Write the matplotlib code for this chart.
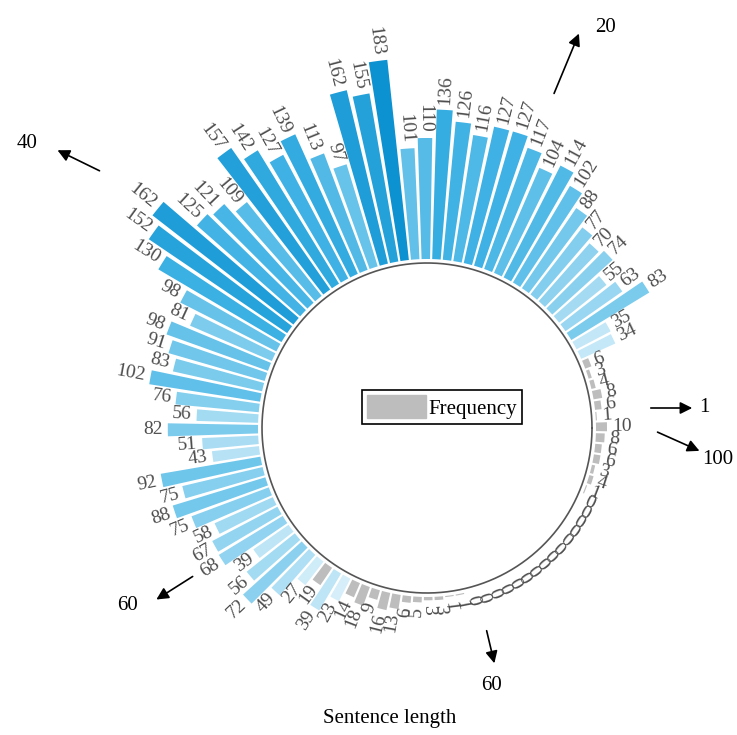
import matplotlib.pyplot as plt
import numpy as np
from matplotlib.colors import LinearSegmentedColormap

# frequency for sentence length 1..100 (counter-clockwise from the east)
lengths = np.arange(1, 101)
freq = [
    1, 6, 8, 4, 3, 6, 34, 35, 83, 63,
    55, 74, 70, 77, 88, 102, 114, 104, 117, 127,
    127, 116, 126, 136, 110, 101, 183, 155, 162, 97,
    113, 139, 127, 142, 157, 109, 121, 125, 162, 152,
    130, 98, 81, 98, 91, 83, 102, 76, 56, 82,
    51, 43, 92, 75, 88, 75, 58, 67, 68, 39,
    56, 72, 49, 27, 19, 39, 23, 14, 18, 9,
    16, 13, 6, 5, 3, 3, 1, 1, 0, 0,
    0, 0, 0, 0, 0, 0, 0, 0, 0, 0,
    0, 0, 0, 1, 4, 3, 6, 6, 8, 10,
]

# direction markers (label, tail, head, text pos) in image pixels
markers = [
    ("1", (648, 408), (695, 408), (704, 408)),
    ("100", (655, 431), (702, 452), (718, 460)),
    ("20", (553, 96), (580, 31), (606, 27)),
    ("40", (102, 172), (55, 149), (27, 143)),
    ("60", (195, 575), (154, 601), (127, 605)),
    ("60", (486, 628), (495, 666), (492, 686)),
]

W, H = 737, 735
cx, cy = 427, 428
R = 380
base = 169
scale = 1.1
step = 2 * np.pi / len(lengths)
theta0 = np.deg2rad(4)

plt.rcParams["font.family"] = ["Liberation Serif", "DejaVu Serif"]

fig = plt.figure(figsize=(W / 100, H / 100), dpi=100)
ax = fig.add_axes(
    [(cx - R) / W, (H - cy - R) / H, 2 * R / W, 2 * R / H],
    projection="polar"
)
ax.set_ylim(0, R)
ax.axis("off")

cmap = LinearSegmentedColormap.from_list(
    "blues", ["#d9f0fa", "#86cfee", "#3bb0e3", "#0a90d0"]
)

freq = np.asarray(freq, dtype=float)
theta = theta0 + (lengths - 1) * step
colors = [
    "#bdbdbd" if f < 20 else cmap((f - 20) / (185 - 20))
    for f in freq
]

bars = ax.bar(
    theta, freq * scale, width=step * 0.8, bottom=base,
    color=colors, edgecolor="none", label="Frequency"
)

# inner circle
t = np.linspace(0, 2 * np.pi, 500)
ax.plot(t, np.full_like(t, base - 4), color="#555555", lw=1.2)

# value labels
for th, f in zip(theta, freq):
    deg = np.rad2deg(th) % 360
    r = base + f * scale + 5
    if 90 < deg < 270:
        rot, ha = deg - 180, "right"
    else:
        rot, ha = deg, "left"
    ax.text(
        th, r, f"{int(f)}", rotation=rot, rotation_mode="anchor",
        ha=ha, va="center", fontsize=14, color="#4d4d4d"
    )

# legend
leg = fig.legend(
    handles=[bars[-1]], labels=["Frequency"],
    loc="center", bbox_to_anchor=(442 / W, 1 - 407 / H),
    fontsize=15, handlelength=2.8, handleheight=1.3,
    handletextpad=0.1, borderpad=0.25, fancybox=False,
    edgecolor="black", framealpha=1
)
leg.legend_handles[0].set_color("#bdbdbd")
leg.get_frame().set_linewidth(1.2)

# arrows
for label, tail, head, pos in markers:
    fig.add_artist(plt.matplotlib.patches.FancyArrowPatch(
        (tail[0], H - tail[1]), (head[0], H - head[1]),
        transform=None, arrowstyle="-|>", mutation_scale=18,
        color="black", lw=1.2
    ))
    fig.text(
        pos[0] / W, 1 - pos[1] / H, label, fontsize=15,
        ha="center", va="center"
    )

fig.text(390 / W, 1 - 718 / H, "Sentence length",
         fontsize=15, ha="center", va="center")

fig.savefig("out.png", dpi=100)
